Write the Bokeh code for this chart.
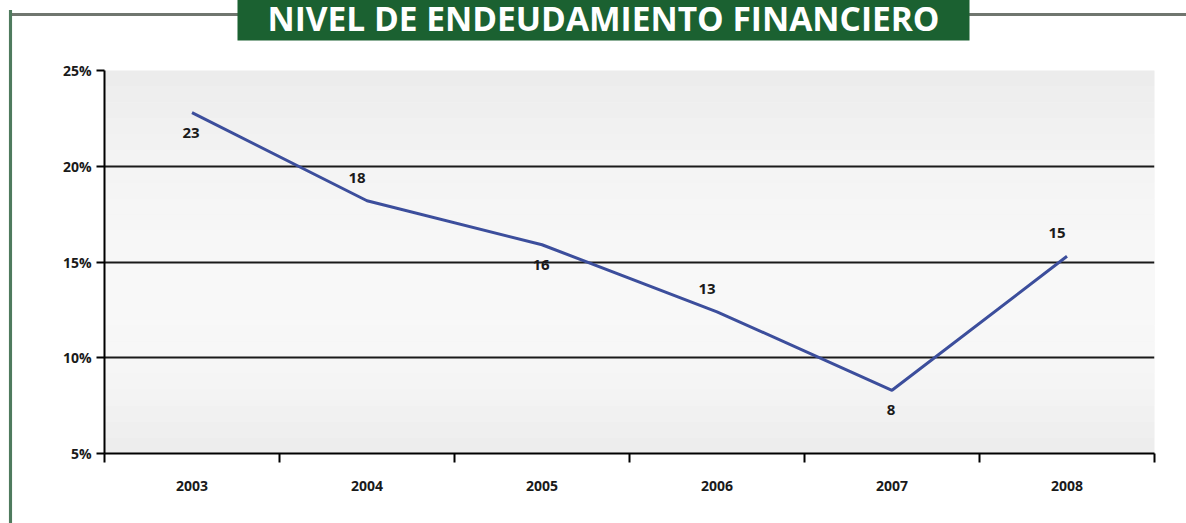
from bokeh.plotting import figure
from bokeh.models import FixedTicker, Label, BoxAnnotation, ColumnDataSource, Range1d
from bokeh.embed import file_html
from bokeh.resources import INLINE
from bokeh.core.properties import value

# ---- data ----
years = ["2003", "2004", "2005", "2006", "2007", "2008"]
debt_pct = [22.8, 18.2, 15.9, 12.4, 8.3, 15.3]
point_labels = ["23", "18", "16", "13", "8", "15"]
label_side = ["below", "above", "below", "above", "below", "above"]
y_ticks = [5, 10, 15, 20, 25]
grid_values = [10, 15, 20]
title_text = "NIVEL DE ENDEUDAMIENTO FINANCIERO"

FONT = "Open Sans"
LINE_BLUE = "#3c4e9c"
GREEN = "#1b6131"
FRAME_TOP = "#70766f"
FRAME_LEFT = "#4f7b5e"

xs = [i + 0.5 for i in range(len(years))]
src = ColumnDataSource(dict(
    x=xs, y=debt_pct, lab=point_labels,
    xo=[-10 if s == "above" else -1 for s in label_side],
    yo=[-23 if s == "above" else 20 for s in label_side],
))

p = figure(width=1186, height=523, output_backend="svg", toolbar_location=None, title=None,
           x_range=Range1d(0, len(years)), y_range=Range1d(y_ticks[0], y_ticks[-1]),
           min_border_left=104, min_border_right=32, min_border_top=70, min_border_bottom=70)
p.outline_line_color = None
p.background_fill_color = "#f3f3f3"
p.border_fill_color = "white"

# soft vertical shading of the plot area (decoration only)
n_bands = 24
step = (y_ticks[-1] - y_ticks[0]) / n_bands
for i in range(n_bands):
    t = (i + 0.5) / n_bands                      # 0 at top, 1 at bottom
    lvl = int(round(235 + 13 * (1 - ((t - 0.6) / 0.6) ** 2))) if t < 0.6 else \
          int(round(236 + 12 * (1 - ((t - 0.6) / 0.4) ** 2)))
    c = "#%02x%02x%02x" % (lvl, lvl, lvl)
    top = y_ticks[-1] - i * step
    p.add_layout(BoxAnnotation(bottom=top - step, top=top, fill_color=c, fill_alpha=1,
                               line_color=None, level="image"))

# x axis: labels at category centres, ticks at category boundaries
xa = p.xaxis[0]
xa.ticker = FixedTicker(ticks=xs, minor_ticks=list(range(len(years) + 1)))
xa.major_label_overrides = {x: y for x, y in zip(xs, years)}
xa.major_tick_line_color = None
xa.major_tick_out = 9
xa.major_tick_in = 0
xa.minor_tick_out = 9
xa.minor_tick_in = 0
xa.minor_tick_line_color = "black"
xa.minor_tick_line_width = 2
xa.axis_line_color = "black"
xa.axis_line_width = 2
xa.major_label_standoff = 18
xa.major_label_text_font = FONT
xa.major_label_text_font_style = "bold"
xa.major_label_text_font_size = "14px"
xa.major_label_text_color = "#1a1a1a"

ya = p.yaxis[0]
ya.ticker = FixedTicker(ticks=y_ticks, minor_ticks=[])
ya.major_label_overrides = {t: f"{t}%" for t in y_ticks}
ya.major_tick_out = 8
ya.major_tick_in = 0
ya.major_tick_line_color = "black"
ya.major_tick_line_width = 2
ya.axis_line_color = "black"
ya.axis_line_width = 2
ya.major_label_standoff = 5
ya.major_label_text_font = FONT
ya.major_label_text_font_style = "bold"
ya.major_label_text_font_size = "14px"
ya.major_label_text_color = "#1a1a1a"

p.xgrid.visible = False
p.ygrid.ticker = FixedTicker(ticks=grid_values)
p.ygrid.grid_line_color = "#1a1a1a"
p.ygrid.grid_line_width = 2

p.line("x", "y", source=src, line_color=LINE_BLUE, line_width=3)
p.text("x", "y", text="lab", source=src, x_offset="xo", y_offset="yo",
       text_font=value(FONT), text_font_style="bold", text_font_size="15px",
       text_color="#1a1a1a", text_align="center", text_baseline="middle")

# outer frame lines and title banner, drawn as side-panel labels
hline = Label(x=605, y=56, x_units="screen", y_units="screen", text=" ",
              text_font_size="1px", text_align="center", text_baseline="middle",
              background_fill_color=FRAME_TOP, padding=(700, 1))
p.add_layout(hline, "above")
banner = Label(x=499, y=50, x_units="screen", y_units="screen", text=title_text,
               text_font=FONT, text_font_style="bold", text_font_size="33.5px",
               text_color="white", text_align="center", text_baseline="alphabetic",
               background_fill_color=GREEN, padding=(30, 0))
p.add_layout(banner, "above")
vline = Label(x=-46, y=141, x_units="screen", y_units="screen", text=" ",
              text_font_size="4px", text_align="center", text_baseline="middle",
              background_fill_color=FRAME_LEFT, padding=(1, 300))
p.add_layout(vline, "left")

open("out.html", "w").write(file_html(p, INLINE))
